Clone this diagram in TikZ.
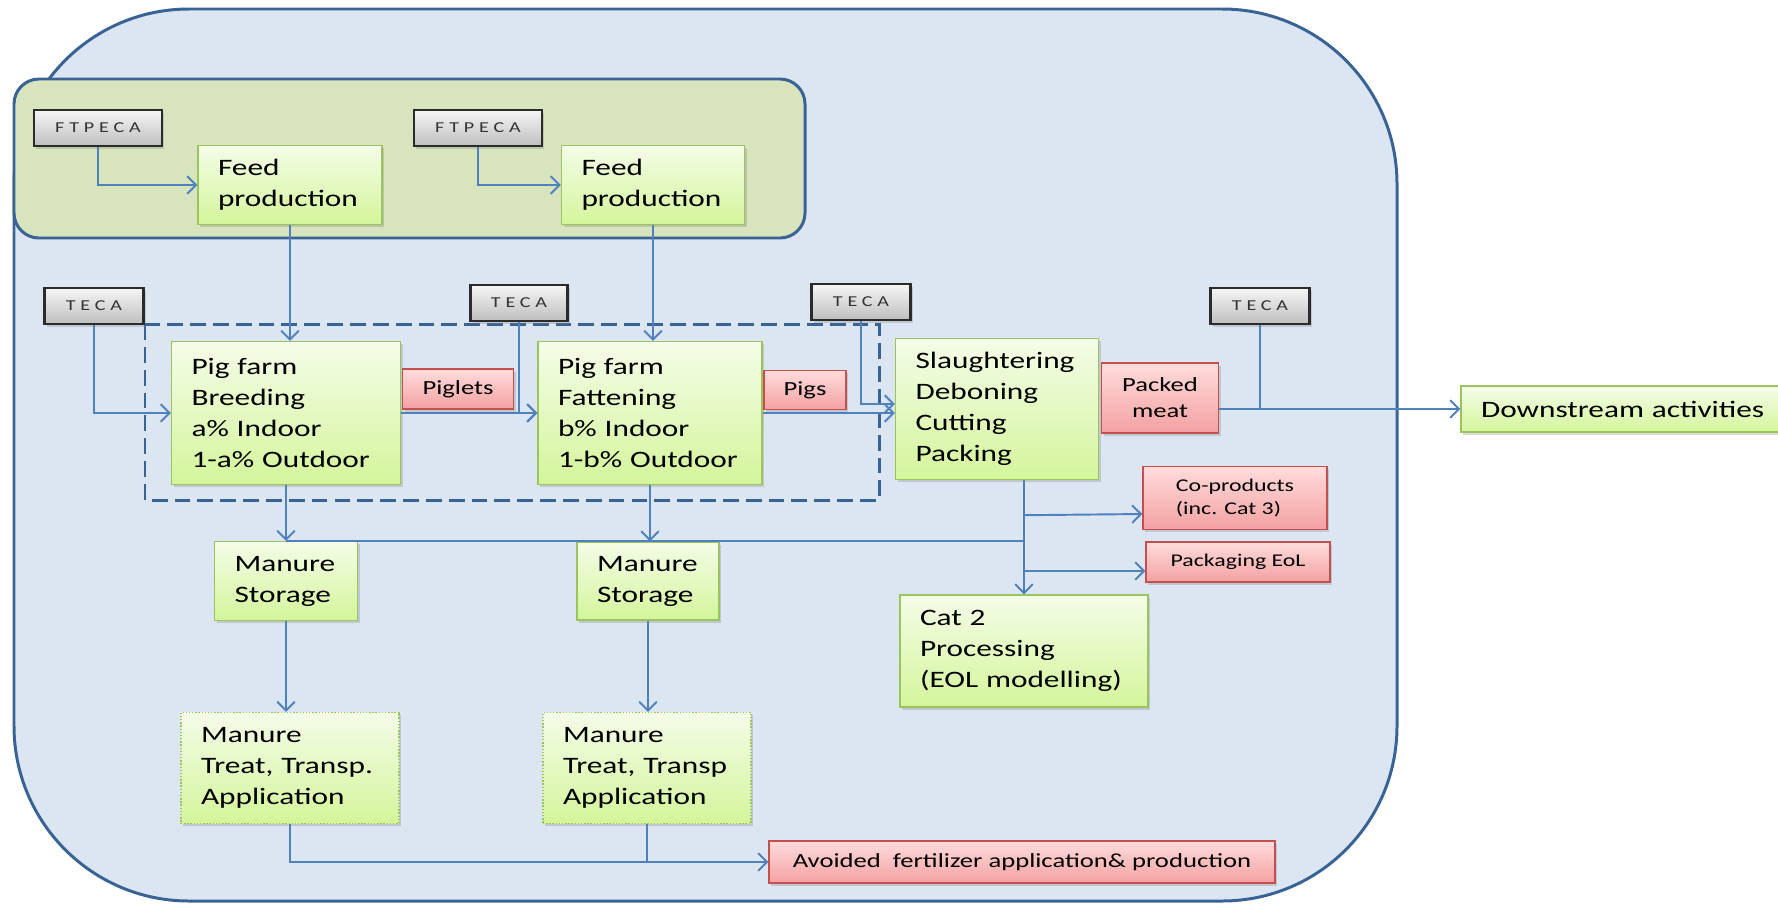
\documentclass[tikz,border=0pt]{standalone}
\usepackage{fontspec}
\setmainfont{Carlito}[FakeStretch=1.33]
\usetikzlibrary{arrows.meta, positioning, shadows}
\definecolor{framefill}{HTML}{DCE6F2}
\definecolor{frameedge}{HTML}{3A6395}
\definecolor{feedzone}{HTML}{D7E4BD}
\definecolor{proctop}{HTML}{F4FCE8}
\definecolor{procbot}{HTML}{D4F59B}
\definecolor{procedge}{HTML}{9CC45C}
\definecolor{outtop}{HTML}{FFDCDC}
\definecolor{outbot}{HTML}{F3A1A1}
\definecolor{outedge}{HTML}{C4504D}
\definecolor{tagtop}{HTML}{F6F6F6}
\definecolor{tagbot}{HTML}{BEBEBE}
\definecolor{tagedge}{HTML}{2B2B2B}
\definecolor{flowblue}{HTML}{4F81BD}
\newcommand\procfont{\fontsize{13.4pt}{17.6pt}\selectfont}
\newcommand\outfont{\fontsize{11.4pt}{14.8pt}\selectfont}
\newcommand\coprodfont{\fontsize{10.2pt}{13.1pt}\selectfont}
\newcommand\tagfont{\fontsize{8.6pt}{10pt}\selectfont\addfontfeature{LetterSpace=32}}

\begin{document}
\begin{tikzpicture}[
    x=0.2mm, y=-0.2mm,
    >={Straight Barb[length=5pt,width=10pt]},
    boxshadow/.style={drop shadow={shadow xshift=1.3pt, shadow yshift=-1.6pt, opacity=0.3}},
    proc/.style={draw=procedge, line width=0.8pt, top color=proctop, bottom color=procbot, align=left, text width=#1, inner xsep=0.4cm, inner ysep=0pt, font=\procfont, boxshadow},
    outbox/.style={draw=outedge, line width=0.8pt, top color=outtop, bottom color=outbot, align=center, inner sep=0pt, font=\outfont, boxshadow},
    tag/.style={draw=tagedge, line width=1.3pt, top color=tagtop, bottom color=tagbot, inner sep=0pt, font=\tagfont, text=black!80, minimum height=0.72cm, boxshadow},
    flow/.style={flowblue, line width=1.1pt}
  ]
  \useasboundingbox (0,0) rectangle (1778,903);
  % containers
  \draw[frameedge, line width=1.7pt, fill=framefill, rounded corners=3.5cm] (14,9) rectangle (1397,901);
  \draw[frameedge, line width=1.7pt, fill=feedzone, rounded corners=0.5cm] (14,79) rectangle (805,238);
  \draw[frameedge, line width=1.7pt, dash pattern=on 9pt off 4pt] (145,324) rectangle (879,500);

  % feed
  \node[tag, minimum width=2.56cm] (ftpeca1) at (98,128) {FTPECA};
  \node[tag, minimum width=2.56cm] (ftpeca2) at (478,128) {FTPECA};
  \node[proc=2.88cm, minimum height=1.58cm] (feed1) at (290,185) {Feed\\production};
  \node[proc=2.86cm, minimum height=1.58cm] (feed2) at (653,185) {Feed\\production};

  % farms
  \node[tag, minimum width=1.98cm] (teca1) at (94,306) {TECA};
  \node[tag, minimum width=1.94cm] (teca2) at (519,303) {TECA};
  \node[tag, minimum width=1.98cm] (teca3) at (861,302) {TECA};
  \node[tag, minimum width=1.98cm] (teca4) at (1260,306) {TECA};
  \node[proc=3.78cm, minimum height=2.86cm] (breed) at (286,413) {Pig farm\\Breeding\\a\% Indoor\\1-a\% Outdoor};
  \node[proc=3.68cm, minimum height=2.86cm] (fatten) at (650,413) {Pig farm\\Fattening\\b\% Indoor\\1-b\% Outdoor};
  \node[outbox, minimum width=2.22cm, minimum height=0.80cm] (piglets) at (458,389) {Piglets};
  \node[outbox, minimum width=1.64cm, minimum height=0.78cm] (pigs) at (805,390) {Pigs};

  % slaughterhouse
  \node[proc=3.26cm, minimum height=2.82cm] (slaughter) at (997,409) {Slaughtering\\Deboning\\Cutting\\Packing};
  \node[outbox, minimum width=2.34cm, minimum height=1.40cm] (packed) at (1160,398) {Packed\\meat};
  \node[proc=5.8cm, minimum height=0.92cm] (downstream) at (1626,409) {Downstream activities};
  \node[outbox, font=\coprodfont, align=left, minimum width=3.68cm, minimum height=1.26cm] (coprod) at (1235,498) {Co-products\\(inc. Cat 3)};
  \node[outbox, font=\coprodfont, minimum width=3.68cm, minimum height=0.80cm] (pkgeol) at (1238,562) {Packaging EoL};
  \node[proc=4.16cm, minimum height=2.24cm] (cat2) at (1024,651) {Cat 2\\Processing\\(EOL modelling)};

  % manure
  \node[proc=2.06cm, minimum height=1.58cm] (store1) at (286,581) {Manure\\Storage};
  \node[proc=2.04cm, minimum height=1.56cm] (store2) at (648,581) {Manure\\Storage};
  \node[proc=3.56cm, minimum height=2.22cm, densely dotted] (treat1) at (290,768) {Manure\\Treat, Transp.\\Application};
  \node[proc=3.36cm, minimum height=2.22cm, densely dotted] (treat2) at (647,768) {Manure\\Treat, Transp\\Application};
  \node[outbox, minimum width=10.12cm, minimum height=0.84cm] (avoided) at (1022,862) {Avoided\ \ fertilizer application\& production};

  % flows
  \draw[flow, ->] (ftpeca1.south) |- (feed1.west);
  \draw[flow, ->] (ftpeca2.south) |- (feed2.west);
  \draw[flow, ->] (feed1.south) -- (feed1.south |- breed.north);
  \draw[flow, ->] (feed2.south) -- (feed2.south |- fatten.north);
  \draw[flow, ->] (teca1.south) |- (breed.west);
  \draw[flow, ->] (breed.east) -- (fatten.west);
  \draw[flow, ->] (teca2.south) |- (fatten.west);
  \draw[flow, ->] (fatten.east) -- (fatten.east -| slaughter.west);
  \draw[flow, ->] (teca3.south) |- ([yshift=0.1cm]slaughter.west);
  \draw[flow, ->] (downstream.west -| packed.east) -- (downstream.west);
  \draw[flow] (teca4.south) -- (teca4.south |- downstream.west);
  \draw[flow, ->] (cat2.north |- slaughter.south) -- (cat2.north);
  \draw[flow, ->] (cat2.north |- coprod.south) ++(0,-15) -- ([yshift=-0.32cm]coprod.west);
  \draw[flow, ->] ([yshift=-0.18cm]pkgeol.west -| cat2.north) -- ([yshift=-0.18cm]pkgeol.west);
  \draw[flow, ->] (breed.south) -- (breed.south |- store1.north);
  \draw[flow, ->] (fatten.south) -- (fatten.south |- store2.north);
  \draw[flow] (store1.north) -- (store1.north -| cat2.north);
  \draw[flow, ->] (store1.south) -- (store1.south |- treat1.north);
  \draw[flow, ->] (store2.south) -- (store2.south |- treat2.north);
  \draw[flow, ->] (treat1.south) |- (avoided.west);
  \draw[flow] (treat2.south) -- (treat2.south |- avoided.west);
\end{tikzpicture}
\end{document}
